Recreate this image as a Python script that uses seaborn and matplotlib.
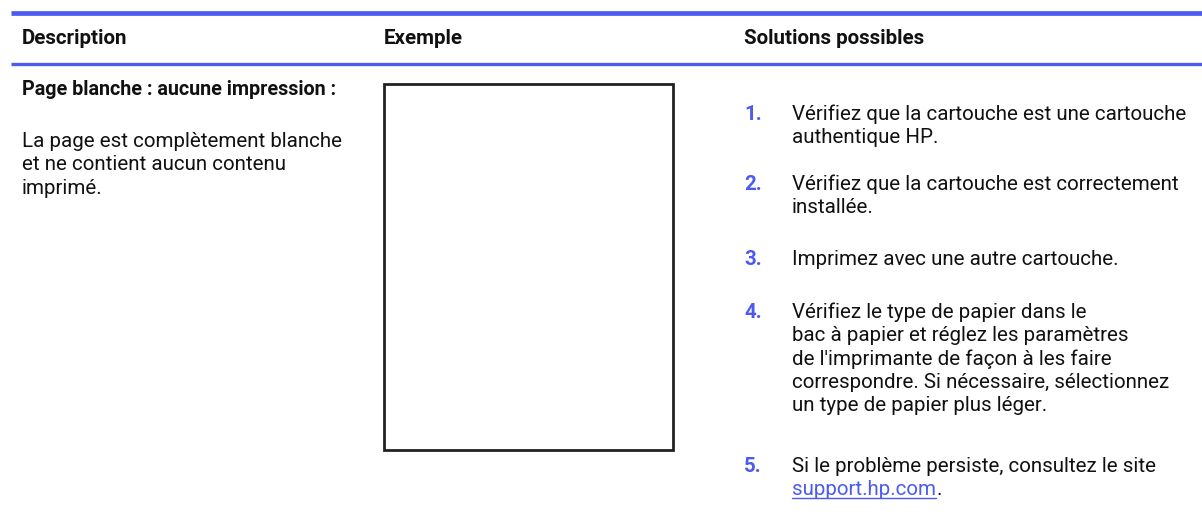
import matplotlib.pyplot as plt
import seaborn as sns
from matplotlib.patches import Rectangle

W, H = 1202, 512
BLUE = '#4b5bef'
TEXT = '#111111'

HEADERS = ['Description', 'Exemple', 'Solutions possibles']
TITLE = 'Page blanche : aucune impression :'
DESC_LINES = ['La page est complètement blanche',
              'et ne contient aucun contenu',
              'imprimé.']
STEP_NUMBERS = ['1.', '2.', '3.', '4.', '5.']
STEP_LINES = [
    ['Vérifiez que la cartouche est une cartouche', 'authentique HP.'],
    ['Vérifiez que la cartouche est correctement', 'installée.'],
    ['Imprimez avec une autre cartouche.'],
    ['Vérifiez le type de papier dans le',
     'bac à papier et réglez les paramètres',
     "de l'imprimante de façon à les faire",
     'correspondre. Si nécessaire, sélectionnez',
     'un type de papier plus léger.'],
    ['Si le problème persiste, consultez le site'],
]
LINK = 'support.hp.com'
# baselines (px from top) of the first line of each step
STEP_BASE = [120, 190, 265, 318, 472]
LH = 23.3

sns.set_theme(style='white')
plt.rcParams['font.family'] = ['Roboto', 'DejaVu Sans']

fig = plt.figure(figsize=(W / 100, H / 100), dpi=100)
ax = fig.add_axes([0, 0, 1, 1])
ax.set_xlim(0, W)
ax.set_ylim(H, 0)
ax.axis('off')
renderer = fig.canvas.get_renderer()


def fit_size(text, target, weight='normal'):
    t = ax.text(0, 0, text, fontsize=10, fontweight=weight)
    w = t.get_window_extent(renderer).width
    t.remove()
    return 10 * target / w


FS = fit_size(STEP_LINES[0][0], 394)
FS_HEAD = fit_size(HEADERS[2], 181, 'bold')
FS_TITLE = fit_size(TITLE, 315, 'bold')

# header rules
ax.plot([11, W], [13, 13], color=BLUE, lw=3.4, solid_capstyle='butt')
ax.plot([11, W], [64, 64], color=BLUE, lw=2.4, solid_capstyle='butt')

for x, label in zip([22, 384, 744], HEADERS):
    ax.text(x, 44, label, fontsize=FS_HEAD, fontweight='bold', color=TEXT, va='baseline')

# description column
ax.text(22, 95, TITLE, fontsize=FS_TITLE, fontweight='bold', color=TEXT, va='baseline')
for i, line in enumerate(DESC_LINES):
    ax.text(22, 147 + i * LH, line, fontsize=FS, color=TEXT, va='baseline')

# example column: blank page
ax.add_patch(Rectangle((384, 84), 289, 366, fill=False, edgecolor='#222222', lw=2))

# solutions column
for num, lines, y0 in zip(STEP_NUMBERS, STEP_LINES, STEP_BASE):
    ax.text(744, y0, num, fontsize=FS, fontweight='bold', color=BLUE, va='baseline')
    for j, line in enumerate(lines):
        ax.text(792, y0 + j * LH, line, fontsize=FS, color=TEXT, va='baseline')

ly = STEP_BASE[-1] + LH
link = ax.text(792, ly, LINK, fontsize=FS, color=BLUE, va='baseline')
fig.canvas.draw()
bb = link.get_window_extent(renderer).transformed(ax.transData.inverted())
ax.plot([bb.x0, bb.x1], [ly + 3, ly + 3], color=BLUE, lw=1)
ax.text(bb.x1, ly, '.', fontsize=FS, color=TEXT, va='baseline')

fig.savefig('out.png', dpi=100)
